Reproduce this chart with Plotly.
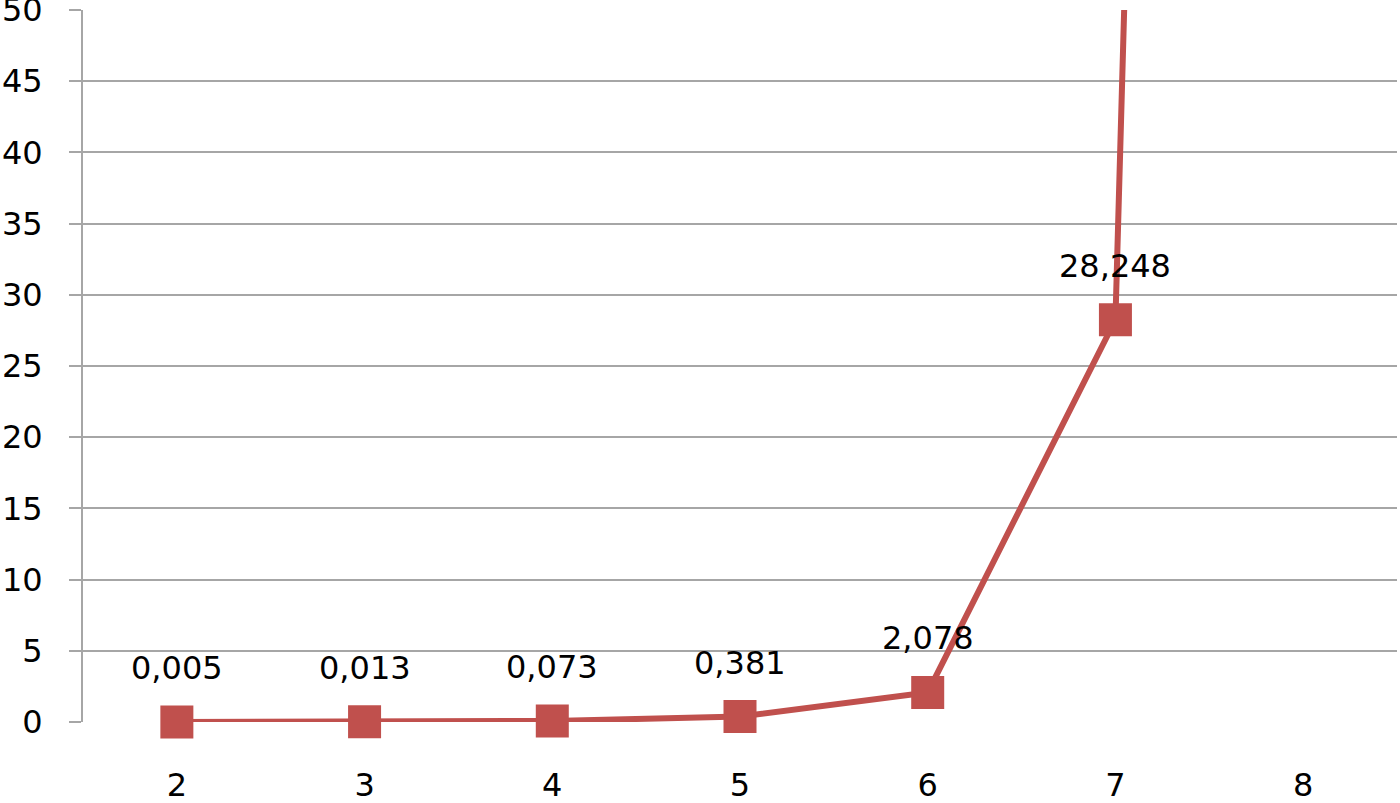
import plotly.graph_objects as go

# dados
categorias = ["2", "3", "4", "5", "6", "7", "8"]
valores = [0.005, 0.013, 0.073, 0.381, 2.078, 28.248, 496]
rotulos = ["0,005", "0,013", "0,073", "0,381", "2,078", "28,248", "496"]
y_max = 50

vermelho = "#C0504D"
cinza = "#A6A6A6"
fonte = dict(family="DejaVu Sans", size=32, color="black")

# linha é cortada pela área do gráfico; marcadores não (para o quadrado no 0 aparecer inteiro)
fig = go.Figure(go.Scatter(
    x=categorias, y=valores, mode="lines+markers",
    line=dict(color=vermelho, width=6),
    marker=dict(symbol="square", size=33, color=vermelho),
    cliponaxis=False, hoverinfo="skip"
))

# rótulos de dados (só os que ficam dentro do gráfico)
# x pela posição da categoria, senão "2" vira índice 2
anots = []
for i, (v, t) in enumerate(zip(valores, rotulos)):
    if v <= y_max:
        anots.append(dict(x=i, y=v, xref="x", yref="y", text=t, showarrow=False,
                          yshift=54, font=fonte))

fig.update_layout(
    width=1400, height=803,
    margin=dict(l=83, r=3, t=10, b=81),
    paper_bgcolor="white", plot_bgcolor="white",
    showlegend=False, font=fonte,
    annotations=anots,
    xaxis=dict(type="category", range=[-0.5, 6.5], showgrid=False, zeroline=False,
               showline=False, ticks="", ticklabelstandoff=41, tickfont=fonte,
               automargin=False),
    yaxis=dict(range=[0, y_max], dtick=5, showgrid=True, gridcolor=cinza, gridwidth=2,
               zeroline=False, showline=True, linecolor=cinza, linewidth=2,
               ticks="outside", ticklen=12, tickcolor=cinza, tickwidth=2,
               ticklabelstandoff=20, tickfont=fonte, automargin=False,
               ticklabeloverflow="allow"),
)

# tira a margem padrão do body para o gráfico ficar colado no canto
fig.write_html("out.html", config={"displayModeBar": False},
               post_script="document.body.style.margin='0';")
